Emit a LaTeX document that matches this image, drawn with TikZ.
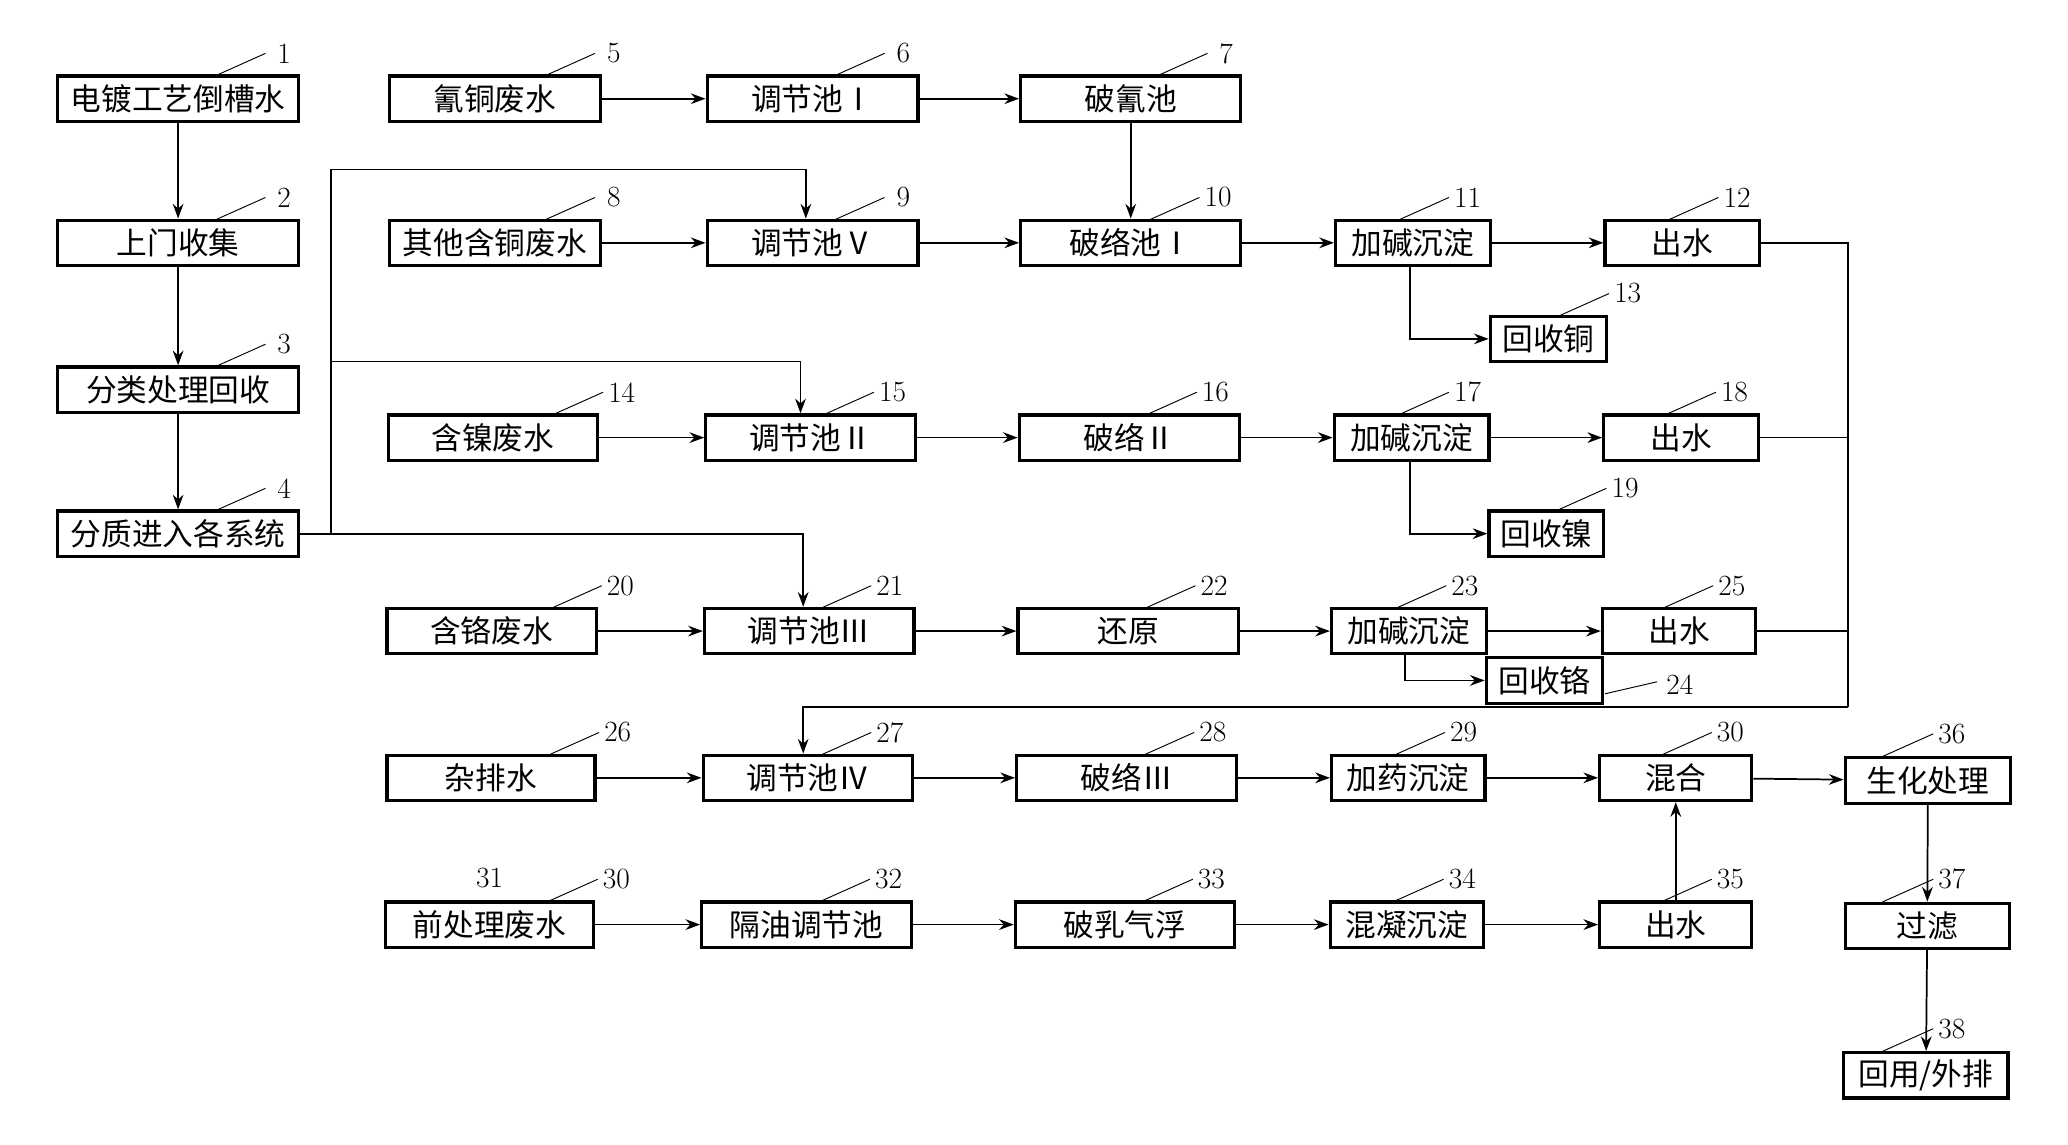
\documentclass[tikz,border=0pt]{standalone}
\usepackage{fontspec}
\newfontfamily\cjk{Noto Sans CJK SC}
\usetikzlibrary{arrows.meta}
\begin{document}
\begin{tikzpicture}[x=1pt,y=-1pt,
  box/.style={draw,line width=2.4pt,minimum height=34pt,inner sep=0pt,font=\cjk\fontsize{23}{23}\selectfont},
  ar/.style={line width=1.3pt,-{Stealth[length=11pt,width=8pt]}},
  ln/.style={line width=1.3pt},
  num/.style={font=\fontsize{22}{22}\selectfont,inner sep=0pt}]
\useasboundingbox (0,0) rectangle (1550,858);
\newcommand\bx[6]{\node[box,minimum width=#4-#3] (#1) at ({(#3+#4)/2},#5) {#6};}
\newcommand\lab[3]{\draw[line width=0.7pt] ({#1-52},#2) -- ({#1-14},{#2-17}); \node[num] at (#1,{#2-17}) {#3};}
% column A
\bx{n1}{}{43}{224}{74}{电镀工艺倒槽水}
\bx{n2}{}{43}{224}{182}{上门收集}
\bx{n3}{}{43}{224}{292}{分类处理回收}
\bx{n4}{}{43}{224}{400}{分质进入各系统}
% column B
\bx{n5}{}{292}{450}{74}{氰铜废水}
\bx{n8}{}{292}{450}{182}{其他含铜废水}
\bx{n14}{}{291}{448}{328}{含镍废水}
\bx{n20}{}{290}{447}{473}{含铬废水}
\bx{n26}{}{290}{446}{583}{杂排水}
\bx{n31}{}{289}{445}{693}{前处理废水}
% column C
\bx{n6}{}{530}{688}{74}{调节池Ⅰ}
\bx{n9}{}{530}{688}{182}{调节池Ⅴ}
\bx{n15}{}{529}{686}{328}{调节池Ⅱ}
\bx{n21}{}{528}{685}{473}{调节池Ⅲ}
\bx{n27}{}{527}{684}{583}{调节池Ⅳ}
\bx{n32}{}{526}{683}{693}{隔油调节池}
% column D
\bx{n7}{}{765}{930}{74}{破氰池}
\bx{n10}{}{765}{930}{182}{破络池Ⅰ}
\bx{n16}{}{764}{929}{328}{破络Ⅱ}
\bx{n22}{}{763}{928}{473}{还原}
\bx{n28}{}{762}{927}{583}{破络Ⅲ}
\bx{n33}{}{761}{925}{693}{破乳气浮}
% column E
\bx{n11}{}{1001}{1117}{182}{加碱沉淀}
\bx{n17}{}{1000}{1116}{328}{加碱沉淀}
\bx{n23}{}{998}{1114}{473}{加碱沉淀}
\bx{n29}{}{998}{1113}{583}{加药沉淀}
\bx{n34}{}{997}{1112}{693}{混凝沉淀}
% column F
\bx{n12}{}{1203}{1319}{182}{出水}
\bx{n18}{}{1202}{1318}{328}{出水}
\bx{n25}{}{1201}{1316}{473}{出水}
\bx{n30}{}{1199}{1313}{583}{混合}
\bx{n35}{}{1199}{1313}{693}{出水}
% recovery
\bx{n13}{}{1117}{1204}{254}{回收铜}
\bx{n19}{}{1116}{1202}{400}{回收镍}
\bx{n24}{}{1114}{1201}{510}{回收铬}
% column G
\bx{n36}{}{1383}{1507}{585}{生化处理}
\bx{n37}{}{1383}{1506}{694}{过滤}
\bx{n38}{}{1382}{1505}{806}{回用/外排}
% labels
\lab{213}{57}{1}\lab{213}{165}{2}\lab{213}{275}{3}\lab{213}{383}{4}
\lab{460}{57}{5}\lab{677}{57}{6}\lab{919}{57}{7}
\lab{460}{165}{8}\lab{677}{165}{9}\lab{913}{165}{10}\lab{1100}{165}{11}\lab{1302}{165}{12}
\lab{1220}{237}{13}
\lab{466}{311}{14}\lab{669}{311}{15}\lab{911}{311}{16}\lab{1100}{311}{17}\lab{1300}{311}{18}
\lab{1218}{383}{19}
\lab{465}{456}{20}\lab{667}{456}{21}\lab{910}{456}{22}\lab{1098}{456}{23}\lab{1298}{456}{25}
\draw[line width=0.7pt] (1203,520) -- (1242,511); \node[num] at (1259,513) {24};
\lab{463}{566}{26}\lab{667}{566}{27}\lab{909}{566}{28}\lab{1097}{566}{29}\lab{1297}{566}{30}\lab{1463}{567}{36}
\node[num] at (367,658) {31};
\lab{462}{676}{30}\lab{666}{676}{32}\lab{908}{676}{33}\lab{1096}{676}{34}\lab{1297}{676}{35}\lab{1463}{676}{37}
\lab{1463}{788}{38}
% column A flow
\draw[ar] (n1) -- (n2); \draw[ar] (n2) -- (n3); \draw[ar] (n3) -- (n4);
% distribution
\coordinate (jt) at (248,127); \coordinate (jm) at (248,271); \coordinate (jb) at (248,400);
\coordinate (k9) at (604,127); \coordinate (k15) at (600,271); \coordinate (k21) at (602,400);
\draw[ln] (n4.east) -- (jb) -- (jt);
\draw[ar] (jt) -- (k9) -- (k9 |- n9.north);
\draw[ar] (jm) -- (k15) -- (k15 |- n15.north);
\draw[ar] (jb) -- (k21) -- (k21 |- n21.north);
% rows
\draw[ar] (n5) -- (n6); \draw[ar] (n6) -- (n7); \draw[ar] (n7) -- (n10);
\draw[ar] (n8) -- (n9); \draw[ar] (n9) -- (n10); \draw[ar] (n10) -- (n11); \draw[ar] (n11) -- (n12);
\draw[ar] (n14) -- (n15); \draw[ar] (n15) -- (n16); \draw[ar] (n16) -- (n17); \draw[ar] (n17) -- (n18);
\draw[ar] (n20) -- (n21); \draw[ar] (n21) -- (n22); \draw[ar] (n22) -- (n23); \draw[ar] (n23) -- (n25);
\draw[ar] (n26) -- (n27); \draw[ar] (n27) -- (n28); \draw[ar] (n28) -- (n29); \draw[ar] (n29) -- (n30); \draw[ar] (n30) -- (n36);
\draw[ar] (n31) -- (n32); \draw[ar] (n32) -- (n33); \draw[ar] (n33) -- (n34); \draw[ar] (n34) -- (n35);
\draw[ar] (n35) -- (n30); \draw[ar] (n36) -- (n37); \draw[ar] (n37) -- (n38);
% recovery branches
\coordinate (b11) at (1057,199); \draw[ar] (b11) |- (n13.west);
\coordinate (b17) at (1057,345); \draw[ar] (b17) |- (n19.west);
\coordinate (b23) at (1053,490); \draw[ar] (b23) |- (n24.west);
% return
\coordinate (rt) at (1385,182); \coordinate (rb) at (1385,530); \coordinate (k27) at (602,530);
\draw[ln] (n12.east) -- (rt) -- (rb);
\draw[ln] (n18.east) -- (n18.east -| rb);
\draw[ln] (n25.east) -- (n25.east -| rb);
\draw[ar] (rb) -- (k27) -- (k27 |- n27.north);
\end{tikzpicture}
\end{document}
